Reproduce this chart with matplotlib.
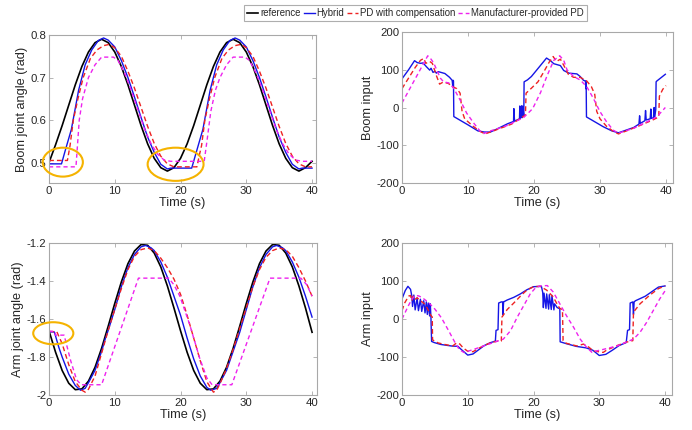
import matplotlib
matplotlib.use('Agg')
import matplotlib.pyplot as plt
from matplotlib.patches import Ellipse

plt.rcParams['font.family'] = ['Liberation Sans', 'DejaVu Sans']
plt.rcParams['axes.unicode_minus'] = False

# ---------------- data ----------------
series_names = ['reference', 'Hybrid', 'PD with compensation', 'Manufacturer-provided PD']
x_ticks = [0, 10, 20, 30, 40]

# Boom joint angle (rad)
t_ref = list(range(41))
boom_ref = [0.500, 0.542, 0.587, 0.635, 0.683, 0.726, 0.760, 0.782, 0.790, 0.782,
            0.760, 0.726, 0.683, 0.635, 0.587, 0.544, 0.510, 0.488, 0.480, 0.488,
            0.510, 0.544, 0.587, 0.635, 0.683, 0.726, 0.760, 0.782, 0.790, 0.782,
            0.760, 0.726, 0.683, 0.635, 0.587, 0.544, 0.510, 0.488, 0.480, 0.488, 0.503]

t_boom_hyb = [0, 1.9, 2.5, 3.4, 4.5, 5.0, 5.5, 6.5, 7.5, 8.3, 9.0, 10, 11, 12, 13, 14, 15, 16, 17, 18, 18.5,
              21.7, 22.5, 23.4, 24.5, 25.0, 25.5, 26.5, 27.5, 28.3, 29.0, 30, 31, 32, 33, 34, 35, 36, 37, 38, 38.5, 40]
boom_hyb = [0.497, 0.497, 0.530, 0.578, 0.670, 0.700, 0.730, 0.765, 0.787, 0.793, 0.788, 0.772, 0.740, 0.700,
            0.654, 0.606, 0.560, 0.524, 0.496, 0.485, 0.487,
            0.487, 0.530, 0.578, 0.670, 0.700, 0.730, 0.765, 0.787, 0.793, 0.788, 0.772, 0.740, 0.700,
            0.654, 0.606, 0.560, 0.524, 0.496, 0.485, 0.487, 0.487]

t_boom_pdc = [0, 2.8, 3.2, 3.7, 4.4, 5.2, 6.3, 7.3, 8.3, 9.2, 10, 11, 12, 13, 14, 15, 16, 17, 18, 19,
              22.5, 22.9, 23.2, 23.7, 24.4, 25.2, 26.3, 27.3, 28.3, 29.2, 30, 31, 32, 33, 34, 35, 36, 37, 38, 39, 40]
boom_pdc = [0.505, 0.505, 0.540, 0.600, 0.650, 0.700, 0.745, 0.765, 0.775, 0.778, 0.770, 0.750, 0.715, 0.675,
            0.630, 0.585, 0.545, 0.515, 0.497, 0.490,
            0.490, 0.520, 0.540, 0.600, 0.650, 0.700, 0.745, 0.765, 0.775, 0.778, 0.770, 0.750, 0.715, 0.675,
            0.630, 0.585, 0.545, 0.515, 0.497, 0.490, 0.490]

t_boom_man = [0, 4.1, 4.6, 5.1, 6.0, 7.0, 8.0, 9.8, 10.5, 11.5, 12.5, 13.5, 14.5, 15.5, 16.5, 17.5, 18.5,
              23.6, 24.1, 24.6, 25.3, 26.0, 27.0, 28.0, 29.8, 30.5, 31.5, 32.5, 33.5, 34.5, 35.5, 36.5, 37.5, 38.5, 40]
boom_man = [0.490, 0.490, 0.600, 0.650, 0.700, 0.730, 0.748, 0.748, 0.740, 0.710, 0.670, 0.625, 0.580, 0.545,
            0.520, 0.506, 0.503,
            0.503, 0.560, 0.620, 0.670, 0.700, 0.730, 0.748, 0.748, 0.740, 0.710, 0.670, 0.625, 0.580, 0.545,
            0.520, 0.506, 0.503, 0.503]

# Boom input
t_bin_hyb = [0, 1.0, 1.9, 2.3, 2.8, 3.2, 3.7, 4.2, 4.4, 4.7, 5.0, 5.2, 5.5, 6.5, 7.2, 7.6, 7.7, 7.75, 7.8, 7.85,
             10.0, 11.5, 12.5, 13.4, 14.5, 16.0, 16.9, 16.95, 17.05, 17.8, 17.85, 17.95, 18.15, 18.2, 18.3, 18.45,
             18.5, 19.0, 19.6, 20.4, 21.9, 22.5, 23.0, 24.0, 24.5, 25.3, 26.5, 27.0, 27.5, 27.8, 27.85, 27.9, 27.95,
             30.5, 31.8, 32.8, 35.1, 35.9, 36.0, 36.1, 36.8, 36.9, 37.0, 37.6, 37.7, 37.8, 38.1, 38.2, 38.3, 38.45,
             38.5, 38.6, 39.9]
bin_hyb = [76, 100, 124, 119, 117, 118, 108, 99, 104, 93, 96, 91, 95, 90, 80, 72, 55, 72, 70, -24,
           -46, -62, -65, -65, -56, -43, -37, -3, -36, -30, 4, -29, 5, -27, 3, -22,
           68, 73, 82, 99, 131, 124, 116, 111, 98, 91, 89, 82, 72, 70, 50, 70, -25,
           -51, -62, -67, -53, -44, -22, -42, -35, -8, -33, -30, -4, -29, -27, 0, -25, -5,
           68, 70, 88]

t_bin_pdc = [0, 1.0, 2.0, 2.8, 3.3, 3.6, 4.2, 4.6, 5.2, 5.7, 6.2, 7.0, 7.7, 8.3, 8.8, 9.1, 9.5, 10.8, 11.8, 12.6,
             14.0, 16.6, 18.1, 18.7, 18.8, 19.6, 20.6, 21.5, 22.3, 22.9, 23.4, 24.0, 24.5, 25.2, 26.0, 27.0, 28.0,
             28.7, 29.2, 29.5, 30.0, 31.0, 32.0, 32.8, 34.0, 36.0, 38.0, 38.9, 39.0, 39.5, 40.0]
bin_pdc = [50, 78, 106, 125, 130, 117, 122, 117, 85, 62, 67, 64, 55, 50, 38, -10, -30, -50, -63, -70,
           -61, -44, -27, -20, 38, 51, 68, 95, 120, 135, 122, 128, 112, 88, 80, 80, 70,
           55, 35, -10, -30, -50, -63, -70, -62, -48, -33, -25, 30, 48, 58]

t_bin_man = [0, 1, 2, 3, 3.9, 4.4, 4.8, 5.3, 5.8, 6.3, 7.1, 7.8, 8.8, 9.8, 10.9, 11.9, 12.4, 13.4, 15.9, 18.4,
             19.8, 21.0, 22.0, 23.0, 23.9, 24.5, 25.0, 26.0, 27.0, 28.0, 29.0, 30.0, 31.0, 32.0, 32.8, 35.1, 37.1,
             38.6, 39.9]
bin_man = [12, 44, 76, 108, 137, 128, 118, 98, 78, 68, 65, 52, 20, -15, -42, -64, -69, -62, -48, -27,
           -3, 40, 85, 125, 137, 125, 100, 82, 73, 55, 24, -11, -38, -60, -68, -55, -38,
           -25, 0]

# Arm joint angle (rad)
arm_ref = [-1.662, -1.775, -1.871, -1.938, -1.972, -1.968, -1.927, -1.854, -1.754, -1.638,
           -1.518, -1.405, -1.309, -1.242, -1.208, -1.212, -1.253, -1.326, -1.426, -1.542,
           -1.662, -1.775, -1.871, -1.938, -1.972, -1.968, -1.927, -1.854, -1.754, -1.638,
           -1.518, -1.405, -1.309, -1.242, -1.208, -1.212, -1.253, -1.326, -1.426, -1.542, -1.670]

t_arm_hyb = [0, 0.8, 1.0, 1.5, 2, 3, 4, 4.8, 5.5, 6, 7, 8, 8.5, 9, 10, 11, 12, 13, 14, 14.7, 15.5, 16, 17, 18,
             19, 20, 21, 22, 23, 24, 24.6, 25.5, 26, 27, 28, 29, 30, 31, 32, 33, 34, 34.6, 35.5, 36, 37, 38, 39, 40]
arm_hyb = [-1.668, -1.668, -1.69, -1.75, -1.80, -1.89, -1.95, -1.975, -1.965, -1.935, -1.87, -1.77, -1.71,
           -1.66, -1.55, -1.43, -1.33, -1.26, -1.22, -1.213, -1.225, -1.24, -1.30, -1.38,
           -1.48, -1.58, -1.70, -1.81, -1.90, -1.96, -1.975, -1.965, -1.935, -1.87, -1.77, -1.67, -1.55,
           -1.43, -1.33, -1.26, -1.22, -1.213, -1.225, -1.24, -1.30, -1.38, -1.48, -1.59]

t_arm_pdc = [0, 1.2, 2, 3, 4, 5, 5.5, 6, 7, 8, 9, 10, 11, 12, 13, 14, 15, 16, 17, 18, 19, 20, 21, 22, 23, 24,
             25, 25.5, 26, 27, 28, 29, 30, 31, 32, 33, 34, 35, 36, 37, 38, 39, 40]
arm_pdc = [-1.665, -1.668, -1.73, -1.84, -1.93, -1.975, -1.985, -1.97, -1.90, -1.78, -1.66, -1.55, -1.44,
           -1.34, -1.27, -1.235, -1.226, -1.24, -1.28, -1.33, -1.39, -1.47, -1.58, -1.70, -1.82, -1.93,
           -1.985, -1.975, -1.94, -1.86, -1.76, -1.65, -1.54, -1.43, -1.34, -1.275, -1.24, -1.226, -1.235,
           -1.27, -1.33, -1.40, -1.48]

t_arm_man = [0, 0.9, 1.0, 2.3, 3.3, 4.2, 4.9, 8.0, 13.6, 18.2, 19.0, 19.9, 21.4, 22.9, 24.0, 24.8, 27.8,
             33.6, 38.3, 39.2, 40]
arm_man = [-1.665, -1.665, -1.685, -1.685, -1.82, -1.92, -1.946, -1.946, -1.385, -1.385, -1.42, -1.48,
           -1.63, -1.805, -1.91, -1.946, -1.946, -1.385, -1.385, -1.42, -1.48]

# Arm input
t_ain_hyb = [0, 0.5, 0.9, 1.3, 1.5, 1.6, 1.8, 2.0, 2.3, 2.5, 2.8, 3.0, 3.3, 3.5, 3.7, 3.85, 4.0, 4.2, 4.3, 4.4,
             4.5, 4.9, 5.9, 7.5, 8.5, 9.0, 10.0, 10.8, 11.5, 12.5, 13.5, 14.2, 14.3, 14.6, 14.7, 15.1, 15.3,
             15.35, 15.45, 16, 17, 18, 19, 20, 21.2, 21.4, 21.5, 21.6, 21.9, 22.0, 22.3, 22.4, 22.7, 22.8,
             23.1, 23.2, 23.6, 24.0, 24.05, 25, 26.5, 28, 29, 30, 31, 32, 33, 34.1, 34.3, 34.6, 34.7, 35.1,
             35.2, 35.3, 35.5, 37, 39, 40]
ain_hyb = [53, 75, 86, 78, 60, 33, 63, 24, 55, 22, 52, 20, 48, 16, 45, 12, 42, 8, 40, 5,
           -59, -62, -67, -71, -72, -80, -95, -92, -83, -70, -62, -58, -30, -28, 42, 45, 45,
           12, 45, 50, 57, 66, 77, 85, 86, 70, 30, 68, 28, 66, 26, 64, 25, 62,
           24, 40, 30, 27, -60, -65, -72, -76, -82, -96, -93, -82, -70, -62, -30, -28, 42, 45,
           12, 45, 48, 60, 84, 87]

t_ain_pdc = [0, 0.4, 1.0, 1.3, 1.5, 1.7, 2.0, 2.3, 2.8, 3.3, 3.8, 4.3, 4.6, 4.65, 5.5, 6.5, 7.7, 8.3, 8.8, 9.3,
             10.0, 10.8, 12.0, 13.5, 14.6, 15.1, 15.2, 16, 17, 18, 18.6, 19, 20, 21, 22, 23, 23.5, 24.0, 24.4,
             24.5, 25, 26.6, 27.6, 28.4, 29.1, 30.6, 31.1, 32.7, 34.1, 35.1, 35.2, 36.2, 37.7, 39, 40]
ain_pdc = [22, 42, 60, 62, 48, 60, 52, 56, 48, 42, 30, 12, 5, -55, -63, -67, -71, -63, -66, -76,
           -85, -86, -74, -62, -58, -58, 5, 25, 42, 60, 70, 76, 85, 86, 76, 58, 42, 28, 25,
           -57, -64, -71, -66, -74, -84, -88, -82, -70, -61, -57, 18, 40, 63, 80, 87]

t_ain_man = [0, 0.5, 1, 1.5, 2.0, 2.5, 3, 4, 5, 6, 7, 8, 8.7, 9.4, 10, 10.9, 12.4, 14.4, 15.4, 16.5, 17.5,
             18.5, 19.5, 20.3, 21, 22.1, 23, 24, 25, 26.1, 27.1, 28.1, 28.9, 29.6, 30.6, 32.7, 34.2, 35.2,
             36.2, 37.2, 38.2, 39.2, 40]
ain_man = [0, 18, 36, 52, 62, 61, 57, 44, 26, 3, -28, -60, -80, -88, -85, -80, -71, -59, -53, -31, 4,
           35, 66, 82, 87, 88, 71, 40, 9, -22, -53, -75, -88, -84, -80, -71, -60, -53,
           -35, -9, 22, 53, 74]

# ---------------- styling ----------------
C_REF = '#000000'
C_HYB = '#1515e6'
C_PDC = '#ee2222'
C_MAN = '#ee22ee'
C_CIRC = '#f5b300'
GRID_C = '#a8a8a8'
TXT_C = '#262626'

fig = plt.figure(figsize=(6.92, 4.30), dpi=100)
W, H = 692.0, 430.0


def make_ax(l, r, t, b):
    return fig.add_axes([l / W, 1 - b / H, (r - l) / W, (b - t) / H])


ax1 = make_ax(49, 316, 35, 183)
ax2 = make_ax(402, 673, 32, 183)
ax3 = make_ax(49, 317, 243, 395)
ax4 = make_ax(402, 672, 243, 395)


def draw(ax, ref, hyb, pdc, man):
    h1, = ax.plot(t_ref, ref, color=C_REF, lw=1.2)
    h2, = ax.plot(hyb[0], hyb[1], color=C_HYB, lw=1.0)
    h3, = ax.plot(pdc[0], pdc[1], color=C_PDC, lw=1.0, dashes=(3.5, 2.2))
    h4, = ax.plot(man[0], man[1], color=C_MAN, lw=1.0, dashes=(3.0, 2.2))
    return [h1, h2, h3, h4]


handles = draw(ax1, boom_ref, (t_boom_hyb, boom_hyb), (t_boom_pdc, boom_pdc), (t_boom_man, boom_man))
ax2.plot(t_bin_hyb, bin_hyb, color=C_HYB, lw=1.0)
ax2.plot(t_bin_pdc, bin_pdc, color=C_PDC, lw=1.0, dashes=(3.5, 2.2))
ax2.plot(t_bin_man, bin_man, color=C_MAN, lw=1.0, dashes=(3.0, 2.2))
draw(ax3, arm_ref, (t_arm_hyb, arm_hyb), (t_arm_pdc, arm_pdc), (t_arm_man, arm_man))
ax4.plot(t_ain_hyb, ain_hyb, color=C_HYB, lw=1.0)
ax4.plot(t_ain_pdc, ain_pdc, color=C_PDC, lw=1.0, dashes=(3.5, 2.2))
ax4.plot(t_ain_man, ain_man, color=C_MAN, lw=1.0, dashes=(3.0, 2.2))

ax1.set_xlim(0, 40.6)
ax1.set_ylim(0.452, 0.8)
ax1.set_yticks([0.5, 0.6, 0.7, 0.8])
ax1.set_ylabel('Boom joint angle (rad)')

ax2.set_xlim(0, 41.06)
ax2.set_ylim(-200, 200)
ax2.set_yticks([-200, -100, 0, 100, 200])
ax2.set_ylabel('Boom input')

ax3.set_xlim(0, 40.75)
ax3.set_ylim(-2, -1.2)
ax3.set_yticks([-2, -1.8, -1.6, -1.4, -1.2])
ax3.set_yticklabels(['-2', '-1.8', '-1.6', '-1.4', '-1.2'])
ax3.set_ylabel('Arm joint angle (rad)')

ax4.set_xlim(0, 41.06)
ax4.set_ylim(-200, 200)
ax4.set_yticks([-200, -100, 0, 100, 200])
ax4.set_ylabel('Arm input')

for ax in (ax1, ax2, ax3, ax4):
    ax.set_xticks(x_ticks)
    ax.set_xlabel('Time (s)', fontsize=9.2, color=TXT_C, labelpad=1)
    ax.yaxis.label.set_fontsize(9.2)
    ax.yaxis.label.set_color(TXT_C)
    ax.yaxis.labelpad = 2
    ax.tick_params(direction='in', length=3, width=0.6, color=GRID_C, labelsize=8.2,
                   labelcolor=TXT_C, top=True, right=True, pad=2)
    for s in ax.spines.values():
        s.set_color(GRID_C)
        s.set_linewidth(0.8)

# highlight ellipses
ax1.add_patch(Ellipse((2.1, 0.501), 6.1, 0.068, fill=False, ec=C_CIRC, lw=1.5, clip_on=False, zorder=5))
ax1.add_patch(Ellipse((19.25, 0.496), 8.5, 0.078, fill=False, ec=C_CIRC, lw=1.5, clip_on=False, zorder=5))
ax3.add_patch(Ellipse((0.65, -1.675), 6.1, 0.116, fill=False, ec=C_CIRC, lw=1.5, clip_on=False, zorder=5))

leg = fig.legend(handles, series_names, loc='center', bbox_to_anchor=(415.5 / W, 1 - 13 / H), ncol=4,
                 fontsize=6.9, frameon=True, fancybox=False, edgecolor='#9a9a9a', handlelength=1.15,
                 handletextpad=0.15, columnspacing=0.35, borderpad=0.35, borderaxespad=0)
leg.get_frame().set_linewidth(0.8)
for txt in leg.get_texts():
    txt.set_color(TXT_C)

fig.savefig('out.png', dpi=100)
